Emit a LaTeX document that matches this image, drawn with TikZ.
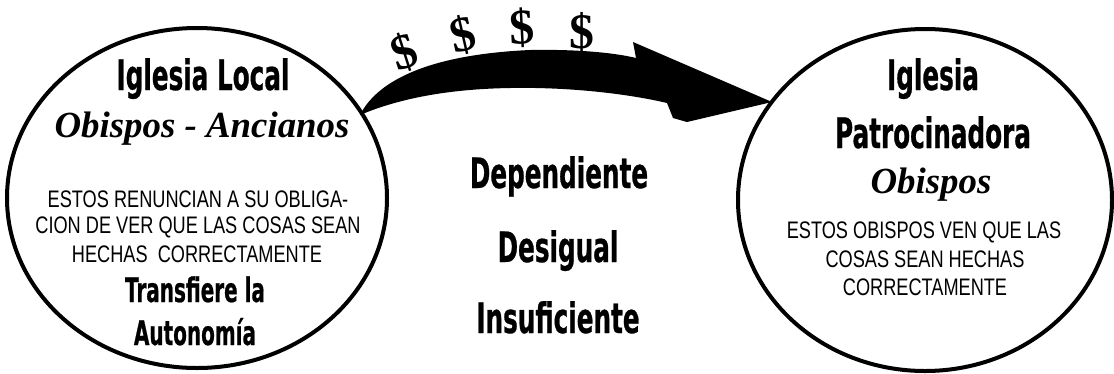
\documentclass[tikz,border=0pt]{standalone}
\usepackage{fontspec}
\usetikzlibrary{shapes.geometric}
\newfontfamily\handfont[FakeStretch=0.59,FakeBold=0.6]{DejaVu Sans Bold}
\newfontfamily\condfont[FakeStretch=0.76]{Liberation Sans}
\newfontfamily\serifbi{Liberation Serif Bold Italic}
\newfontfamily\serifb{Liberation Serif Bold}
\tikzset{
  bubble/.style={ellipse, draw=black, line width=4bp, inner sep=0pt},
  headtxt/.style={anchor=base, inner sep=0pt, font=\handfont\fontsize{42}{42}\selectfont},
  subtxt/.style={anchor=base, inner sep=0pt, font=\handfont\fontsize{34}{34}\selectfont},
  italtxt/.style={anchor=base, inner sep=0pt, font=\serifbi\fontsize{37}{37}\selectfont},
  smalltxt/.style={anchor=base, inner sep=0pt, font=\condfont\fontsize{24}{24}\selectfont},
  dollar/.style={inner sep=0pt, font=\serifb\fontsize{50}{50}\selectfont}
}
\begin{document}
\begin{tikzpicture}[x=1bp,y=-1bp]
\useasboundingbox (0,0) rectangle (1114,373);
\fill[white] (0,0) rectangle (1114,373);
% bubbles
\node[bubble, minimum width=380bp, minimum height=340bp] (L) at (197,198) {};
\node[bubble, minimum width=374bp, minimum height=342bp] (R) at (925,200) {};
% arrow
\coordinate (tail) at (360,115);
\coordinate (tip) at (772,102);
\fill[black] (tail) .. controls (375,85) and (420,55) .. (530,50)
  .. controls (585,49) and (620,54) .. (636,58) -- (633,42) -- (tip)
  -- (687,122) -- (673,118) -- (667,103)
  .. controls (620,92) and (560,87) .. (510,88)
  .. controls (450,89) and (400,98) .. (tail) -- cycle;
% dollars
\node[dollar, rotate=18] (d1) at (404,52) {\$};
\node[dollar, rotate=13] (d2) at (463,35) {\$};
\node[dollar, rotate=3] (d3) at (522,28) {\$};
\node[dollar, rotate=0] (d4) at (582,32) {\$};
% left texts
\node[headtxt] (l1) at (203,90) {Iglesia Local};
\node[italtxt] (l2) at (202,137) {Obispos - Ancianos};
\node[smalltxt] (l3) at (198,207) {ESTOS RENUNCIAN A SU OBLIGA-};
\node[smalltxt] (l4) at (198,233) {CION DE VER QUE LAS COSAS SEAN};
\node[smalltxt] (l5) at (197,262) {HECHAS\ \ CORRECTAMENTE};
\node[subtxt] (l6) at (195,302) {Transfiere la};
\node[subtxt] (l7) at (195,345) {Autonomía};
% centre texts
\node[headtxt] (c1) at (559,188) {Dependiente};
\node[headtxt] (c2) at (558,262) {Desigual};
\node[headtxt] (c3) at (558,333) {Insuficiente};
% right texts
\node[headtxt] (r1) at (933,90) {Iglesia};
\node[headtxt] (r2) at (933,148) {Patrocinadora};
\node[italtxt] (r3) at (931,193) {Obispos};
\node[smalltxt] (r4) at (924,238) {ESTOS OBISPOS VEN QUE LAS};
\node[smalltxt] (r5) at (925,267) {COSAS SEAN HECHAS};
\node[smalltxt] (r6) at (925,295) {CORRECTAMENTE};
\end{tikzpicture}
\end{document}
